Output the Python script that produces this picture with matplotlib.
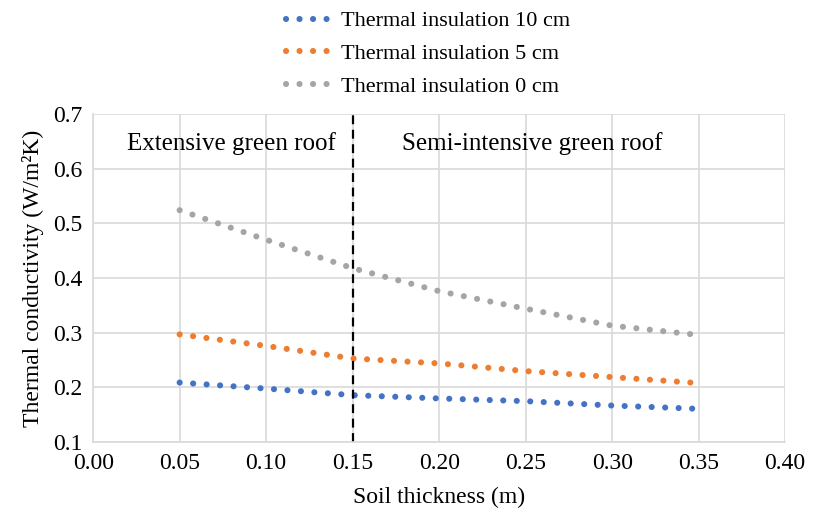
import matplotlib.pyplot as plt
import numpy as np

plt.rcParams['font.family'] = ['Liberation Serif', 'DejaVu Serif']

# data
thickness = [0.05, 0.10, 0.15, 0.20, 0.25, 0.30, 0.35]
ins_10cm = [0.209, 0.198, 0.186, 0.180, 0.175, 0.167, 0.161]
ins_5cm = [0.297, 0.276, 0.253, 0.244, 0.230, 0.219, 0.208]
ins_0cm = [0.524, 0.470, 0.418, 0.376, 0.344, 0.313, 0.296]
labels = ['Thermal insulation 10 cm', 'Thermal insulation 5 cm', 'Thermal insulation 0 cm']
colors = ['#4472C4', '#ED7D31', '#A5A5A5']

fig = plt.figure(figsize=(8.17, 5.13), dpi=100)
ax = fig.add_axes([0.114, 0.138, 0.847, 0.64])

for y, lab, c in zip([ins_10cm, ins_5cm, ins_0cm], labels, colors):
    ax.plot(thickness, y, color=c, lw=4.4, linestyle=(0, (0.01, 2.2)),
            dash_capstyle='round', label=lab)

ax.axvline(0.15, color='black', lw=1.6, linestyle=(0, (4, 2.5)))
ax.text(0.08, 0.645, 'Extensive green roof', ha='center', va='center', fontsize=18)
ax.text(0.254, 0.645, 'Semi-intensive green roof', ha='center', va='center', fontsize=18)

ax.set_xlim(0, 0.40)
ax.set_ylim(0.1, 0.7)
ax.set_xticks(np.arange(0, 0.41, 0.05))
ax.set_xticklabels(['%.2f' % v for v in np.arange(0, 0.41, 0.05)])
ax.set_yticks(np.arange(0.1, 0.71, 0.1))
ax.set_yticklabels(['%.1f' % v for v in np.arange(0.1, 0.71, 0.1)])
ax.tick_params(length=0, labelsize=17, pad=8)
ax.grid(True, color='#D9D9D9', lw=1.2)
ax.set_axisbelow(True)
for s in ['top', 'right']:
    ax.spines[s].set_visible(False)
for s in ['left', 'bottom']:
    ax.spines[s].set_color('#D9D9D9')
    ax.spines[s].set_linewidth(1.2)

ax.set_xlabel('Soil thickness (m)', fontsize=17, labelpad=9)
ax.set_ylabel('Thermal conductivity (W/m²K)', fontsize=17, labelpad=6)

fig.legend(loc='upper center', bbox_to_anchor=(0.524, 1.018), frameon=False,
           fontsize=16, handlelength=1.85, labelspacing=0.55, handletextpad=0.65)

fig.savefig('out.png', dpi=100)
